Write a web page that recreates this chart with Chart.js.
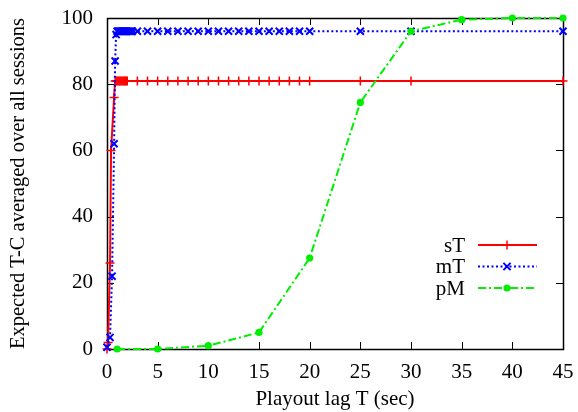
<!DOCTYPE html>
<html><head><meta charset="utf-8">
<script src="https://cdn.jsdelivr.net/npm/chart.js@4"></script>
<style>html,body{margin:0;padding:0;background:#fff}canvas{display:block}</style>
</head><body>
<canvas id="c" width="578" height="412"></canvas>
<script>
// ---- data ----
const xTickValues = [0, 5, 10, 15, 20, 25, 30, 35, 40, 45];
const yTickValues = [0, 20, 40, 60, 80, 100];

const seriesLabels = ['sT', 'mT', 'pM'];

const sTx = [0, 0.1, 0.3, 0.4, 0.7, 0.8, 0.9, 1.0, 1.1, 1.2, 1.3, 1.4, 1.5, 1.6, 1.7, 1.8, 1.9, 2.0,
             3, 4, 5, 6, 7, 8, 9, 10, 11, 12, 13, 14, 15, 16, 17, 18, 19, 20, 25, 30, 45];
const sTy = [0, 2, 26, 60, 76, 81, 81, 81, 81, 81, 81, 81, 81, 81, 81, 81, 81, 81,
             81, 81, 81, 81, 81, 81, 81, 81, 81, 81, 81, 81, 81, 81, 81, 81, 81, 81, 81, 81, 81];

const mTx = [0, 0.3, 0.5, 0.7, 0.8, 0.9, 1.0, 1.1, 1.2, 1.3, 1.4, 1.5, 1.6, 1.7, 1.8, 1.9, 2.0,
             2.1, 2.2, 2.3, 2.4, 2.5,
             3, 4, 5, 6, 7, 8, 9, 10, 11, 12, 13, 14, 15, 16, 17, 18, 19, 20, 25, 30, 45];
const mTy = [0.5, 3.5, 22, 62, 87, 95, 96, 96, 96, 96, 96, 96, 96, 96, 96, 96, 96,
             96, 96, 96, 96, 96,
             96, 96, 96, 96, 96, 96, 96, 96, 96, 96, 96, 96, 96, 96, 96, 96, 96, 96, 96, 96, 96];

const pMx = [1, 5, 10, 15, 20, 25, 30, 35, 40, 45];
const pMy = [0, 0, 1, 5, 27.5, 74.5, 96, 99.5, 100, 100];

const xTitle = 'Playout lag T (sec)';
const yTitle = 'Expected T-C averaged over all sessions';

// ---- build ----
const toPts = (xs, ys) => xs.map((x, i) => ({x: x, y: ys[i]}));
const FONT = "'Liberation Serif', 'Times New Roman', serif";
Chart.defaults.font.family = FONT;
Chart.defaults.font.size = 21;
Chart.defaults.color = '#000';

const borderTicks = {
  id: 'borderTicks',
  beforeDatasetsDraw(chart) {
    const ctx = chart.ctx, a = chart.chartArea;
    const xs = chart.scales.x, ys = chart.scales.y;
    const L = 7;
    ctx.save();
    ctx.strokeStyle = '#000';
    ctx.lineWidth = 1;
    ctx.beginPath();
    xTickValues.forEach(v => {
      const px = Math.round(xs.getPixelForValue(v)) + 0.5;
      ctx.moveTo(px, a.bottom); ctx.lineTo(px, a.bottom - L);
      ctx.moveTo(px, a.top); ctx.lineTo(px, a.top + L);
    });
    yTickValues.forEach(v => {
      const py = Math.round(ys.getPixelForValue(v)) + 0.5;
      ctx.moveTo(a.left, py); ctx.lineTo(a.left + L, py);
      ctx.moveTo(a.right, py); ctx.lineTo(a.right - L, py);
    });
    ctx.stroke();
    ctx.lineWidth = 1.5;
    ctx.strokeRect(Math.round(a.left) + 0.5, Math.round(a.top) + 0.5,
                   Math.round(a.right - a.left), Math.round(a.bottom - a.top));
    ctx.restore();
  }
};

const gnuLegend = {
  id: 'gnuLegend',
  afterDatasetsDraw(chart) {
    const ctx = chart.ctx;
    const textRight = 465, lineL = 478, lineR = 537, mid = 507;
    const rows = [245, 266.5, 288];
    ctx.save();
    chart.data.datasets.forEach((ds, i) => {
      const y = rows[i];
      ctx.font = '21px ' + FONT;
      ctx.fillStyle = '#000';
      ctx.textAlign = 'right';
      ctx.textBaseline = 'middle';
      ctx.fillText(ds.label, textRight, y + 1);
      ctx.strokeStyle = ds.borderColor;
      ctx.lineWidth = ds.borderWidth;
      ctx.setLineDash(ds.borderDash || []);
      ctx.beginPath(); ctx.moveTo(lineL, y); ctx.lineTo(lineR, y); ctx.stroke();
      ctx.setLineDash([]);
      ctx.fillStyle = ds.pointBackgroundColor;
      ctx.strokeStyle = ds.pointBorderColor;
      ctx.lineWidth = ds.pointBorderWidth || 2;
      ctx.beginPath();
      if (ds.pointStyle === 'circle') { ctx.arc(mid, y, ds.pointRadius, 0, Math.PI * 2); ctx.fill(); }
      else if (ds.pointStyle === 'cross') {
        const r = ds.pointRadius; ctx.moveTo(mid - r, y); ctx.lineTo(mid + r, y); ctx.moveTo(mid, y - r); ctx.lineTo(mid, y + r); ctx.stroke();
      } else {
        const r = ds.pointRadius * 0.72; ctx.moveTo(mid - r, y - r); ctx.lineTo(mid + r, y + r); ctx.moveTo(mid + r, y - r); ctx.lineTo(mid - r, y + r); ctx.stroke();
      }
    });
    ctx.restore();
  }
};

function zeroPad(s) { s.paddingTop = 0; s.paddingBottom = 0; s.paddingLeft = 0; s.paddingRight = 0; }

new Chart(document.getElementById('c'), {
  type: 'line',
  data: {
    datasets: [
      {
        label: seriesLabels[0], data: toPts(sTx, sTy),
        borderColor: '#ff0000', borderWidth: 2, pointStyle: 'cross', pointRadius: 4.5,
        pointBorderColor: '#ff0000', pointBackgroundColor: '#ff0000', pointBorderWidth: 1.5,
        order: 2, clip: false, tension: 0
      },
      {
        label: seriesLabels[1], data: toPts(mTx, mTy),
        borderColor: '#0000ff', borderWidth: 2, borderDash: [2, 2.5], pointStyle: 'crossRot', pointRadius: 5,
        pointBorderColor: '#0000ff', pointBackgroundColor: '#0000ff', pointBorderWidth: 2,
        order: 1, clip: false, tension: 0
      },
      {
        label: seriesLabels[2], data: toPts(pMx, pMy),
        borderColor: '#00ee00', borderWidth: 2, borderDash: [8, 3, 2, 3], pointStyle: 'circle', pointRadius: 3.6,
        pointBorderColor: '#00ee00', pointBackgroundColor: '#00ee00', pointBorderWidth: 0,
        order: 0, clip: false, tension: 0
      }
    ]
  },
  options: {
    responsive: false,
    animation: false,
    devicePixelRatio: 1,
    layout: { padding: { top: 18, right: 15, left: 0, bottom: 0 } },
    plugins: { legend: { display: false }, tooltip: { enabled: false } },
    scales: {
      x: {
        type: 'linear', min: 0, max: 45,
        afterFit(s) { s.height = 63; zeroPad(s); },
        afterBuildTicks(s) { s.ticks = xTickValues.map(v => ({value: v})); },
        grid: { display: false, drawTicks: false },
        border: { display: false },
        ticks: { color: '#000', font: { family: FONT, size: 21 }, padding: 11, maxRotation: 0, autoSkip: false },
        title: { display: true, text: xTitle, color: '#000', font: { family: FONT, size: 21 }, padding: { top: 4, bottom: 0 } }
      },
      y: {
        type: 'linear', min: 0, max: 100,
        afterFit(s) { s.width = 107; zeroPad(s); },
        afterBuildTicks(s) { s.ticks = yTickValues.map(v => ({value: v})); },
        grid: { display: false, drawTicks: false },
        border: { display: false },
        ticks: { color: '#000', font: { family: FONT, size: 21 }, padding: 14, autoSkip: false },
        title: { display: true, text: yTitle, color: '#000', font: { family: FONT, size: 20.5 }, padding: { top: 6, bottom: 0 } }
      }
    }
  },
  plugins: [borderTicks, gnuLegend]
});
</script>
</body></html>
